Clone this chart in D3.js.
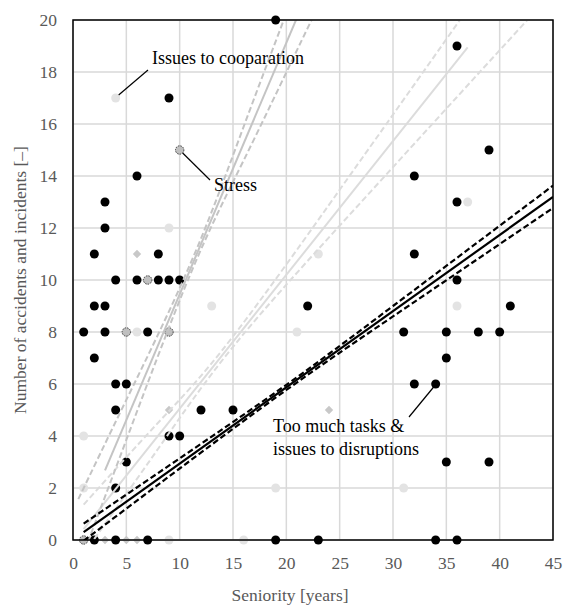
<!DOCTYPE html>
<html>
<head>
<meta charset="utf-8">
<script src="https://cdn.jsdelivr.net/npm/d3@7"></script>
<style>
  body { margin: 0; background: #fff; }
  svg text { font-family: "Liberation Serif", "Times New Roman", serif; }
</style>
</head>
<body>
<script>
var width = 563, height = 606;
var margin = { top: 20, right: 10, bottom: 66, left: 73 };

var xTicks = [0, 5, 10, 15, 20, 25, 30, 35, 40, 45];
var yTicks = [0, 2, 4, 6, 8, 10, 12, 14, 16, 18, 20];

// "Too much tasks & issues to disruptions"
var blackPts = [[1,8],[2,11],[2,9],[2,7],[3,13],[3,12],[3,9],[3,8],[4,10],[4,6],[4,5],[5,6],
  [6,14],[6,10],[7,8],[8,11],[8,10],[9,10],[10,10],[9,17],[9,4],[10,4],[12,5],[15,5],[4,2],[5,3],
  [2,0],[4,0],[7,0],[19,0],[23,0],[22,9],[31,8],[32,14],[32,11],[32,6],[34,6],[34,0],
  [35,8],[35,7],[35,3],[36,19],[36,13],[36,10],[36,0],[38,8],[39,15],[39,3],[40,8],[41,9]];
var blackTop = [[19,20]]; // sits on the top border
// "Issues to cooparation"
var lightPts = [[4,17],[9,12],[13,9],[6,8],[1,4],[1,2],[9,0],[16,0],[19,2],[21,8],[23,11],[31,2],[36,9],[37,13]];
// other series (diamonds)
var diamondPts = [[6,11],[3,0],[5,0],[6,0],[9,5],[24,5]];
// "Stress"
var stressPts = [[10,15],[7,10],[5,8],[9,8],[1,0]];

// trend lines and their bands
var blackFit   = [[1,0.3],[45,13.2]];
var blackUpper = [[1,0.63],[10,3.14],[20,5.97],[30,9.0],[45,13.63]];
var blackLower = [[1,-0.03],[10,2.75],[20,5.77],[30,8.6],[45,12.77]];

var lightFit   = [[1,0.42],[37,18.95]];
var lightUpper = [[1,1.36],[8,4.52],[15,7.83],[25,13.47],[30,16.36],[36,19.84],[45,25.06]];
var lightLower = [[1,-0.53],[8,3.52],[15,7.43],[25,12.09],[36,17.04],[45,21.08]];

var steepFit   = [[3,2.68],[21,20.09]];
var steepUpper = [[0.5,1.57],[5,5.39],[11,10.62],[16,15.9],[21,21.34]];
var steepLower = [[0.5,-1.05],[5,3.85],[11,10.22],[16,14.6],[21,18.84],[23,20.53]];

var svg = d3.select("body").append("svg")
  .attr("width", width)
  .attr("height", height);

var x = d3.scaleLinear().domain([0, 45]).range([margin.left, width - margin.right]);
var y = d3.scaleLinear().domain([0, 20]).range([height - margin.bottom, margin.top]);

svg.append("clipPath").attr("id", "plot")
  .append("rect")
  .attr("x", x(0)).attr("y", y(20))
  .attr("width", x(45) - x(0)).attr("height", y(0) - y(20));

// grid
svg.append("g").selectAll("line").data(xTicks).join("line")
  .attr("x1", d => x(d)).attr("x2", d => x(d))
  .attr("y1", y(0)).attr("y2", y(20))
  .attr("stroke", "#d9d9d9").attr("stroke-width", 1.5);
svg.append("g").selectAll("line").data(yTicks).join("line")
  .attr("x1", x(0)).attr("x2", x(45))
  .attr("y1", d => y(d)).attr("y2", d => y(d))
  .attr("stroke", "#d9d9d9").attr("stroke-width", 1.5);

// axes (labels only)
var xAxis = svg.append("g")
  .attr("transform", "translate(0," + y(0) + ")")
  .call(d3.axisBottom(x).tickValues(xTicks).tickSize(0).tickPadding(17));
var yAxis = svg.append("g")
  .attr("transform", "translate(" + x(0) + ",0)")
  .call(d3.axisLeft(y).tickValues(yTicks).tickSize(0).tickPadding(16));
[xAxis, yAxis].forEach(function (g) {
  g.attr("font-family", null).attr("font-size", null);
  g.select(".domain").remove();
  g.selectAll("text")
    .attr("fill", "#595959")
    .style("font-size", "17.5px");
});

// markers
var pts = svg.append("g");
pts.selectAll(".lt").data(lightPts).join("circle")
  .attr("cx", d => x(d[0])).attr("cy", d => y(d[1])).attr("r", 4.5)
  .attr("fill", "#e3e3e3");
pts.selectAll(".dm").data(diamondPts).join("path")
  .attr("transform", d => "translate(" + x(d[0]) + "," + y(d[1]) + ")")
  .attr("d", d3.symbol(d3.symbolDiamond2, 45)())
  .attr("fill", "#c8c8c8");
pts.selectAll(".st").data(stressPts).join("circle")
  .attr("cx", d => x(d[0])).attr("cy", d => y(d[1])).attr("r", 4.2)
  .attr("fill", "#bfbfbf")
  .attr("stroke", "#404040").attr("stroke-width", 1).attr("stroke-dasharray", "1.5,1");
pts.selectAll(".bk").data(blackPts).join("circle")
  .attr("cx", d => x(d[0])).attr("cy", d => y(d[1])).attr("r", 4.5)
  .attr("fill", "#000");

// lines
var straight = d3.line().x(d => x(d[0])).y(d => y(d[1]));
var curved = d3.line().x(d => x(d[0])).y(d => y(d[1])).curve(d3.curveNatural);
var lines = svg.append("g").attr("clip-path", "url(#plot)");

function group(fit, upper, lower, color, w) {
  lines.append("path").attr("d", curved(upper))
    .attr("fill", "none").attr("stroke", color).attr("stroke-width", w)
    .attr("stroke-dasharray", "6,3");
  lines.append("path").attr("d", curved(lower))
    .attr("fill", "none").attr("stroke", color).attr("stroke-width", w)
    .attr("stroke-dasharray", "6,3");
  lines.append("path").attr("d", straight(fit))
    .attr("fill", "none").attr("stroke", color).attr("stroke-width", w);
}
group(lightFit, lightUpper, lightLower, "#dcdcdc", 2);
group(steepFit, steepUpper, steepLower, "#c4c4c4", 2);
group(blackFit, blackUpper, blackLower, "#000", 2.2);

// frame
svg.append("rect")
  .attr("x", x(0)).attr("y", y(20))
  .attr("width", x(45) - x(0)).attr("height", y(0) - y(20))
  .attr("fill", "none").attr("stroke", "#000").attr("stroke-width", 1.5);

svg.append("g").selectAll("circle").data(blackTop).join("circle")
  .attr("cx", d => x(d[0])).attr("cy", d => y(d[1])).attr("r", 4.5).attr("fill", "#000");

// annotations
function note(rows, tx, ty, from, to) {
  var t = svg.append("text").attr("x", tx).attr("y", ty)
    .style("font-size", "18px").attr("fill", "#000");
  rows.forEach(function (s, i) {
    t.append("tspan").attr("x", tx).attr("dy", i ? 23 : 0).text(s);
  });
  svg.append("line")
    .attr("x1", from[0]).attr("y1", from[1]).attr("x2", to[0]).attr("y2", to[1])
    .attr("stroke", "#000").attr("stroke-width", 1.2);
}
note(["Issues to cooparation"], 152, 64, [148, 70], [x(4) + 3, y(17) - 3]);
note(["Stress"], 214, 191, [x(10) + 3, y(15) + 3], [210, 180]);
note(["Too much tasks &", "issues to disruptions"], 273, 432, [409, 417], [x(34) - 2, y(6) + 3]);

// axis titles
svg.append("text")
  .attr("x", (x(0) + x(45)) / 2 - 23).attr("y", 601)
  .attr("text-anchor", "middle").attr("fill", "#595959")
  .style("font-size", "17.5px")
  .text("Seniority [years]");
svg.append("text")
  .attr("transform", "translate(26," + y(10) + ") rotate(-90)")
  .attr("text-anchor", "middle").attr("fill", "#595959")
  .style("font-size", "17.5px")
  .text("Number of accidents and incidents [–]");
</script>
</body>
</html>
